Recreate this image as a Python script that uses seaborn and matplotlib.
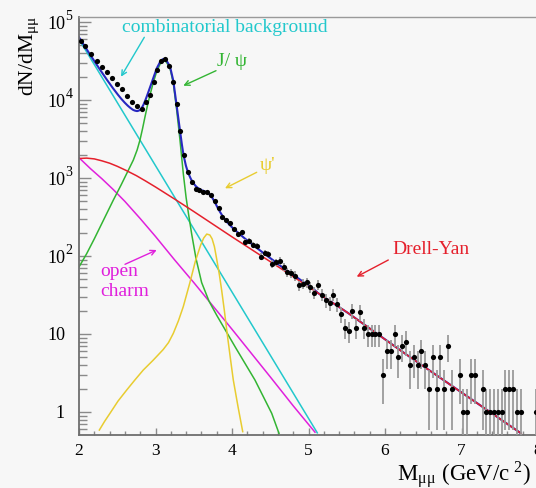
import numpy as np
import matplotlib
matplotlib.use("Agg")
import matplotlib.pyplot as plt
import matplotlib.transforms as mtransforms
import seaborn as sns
from matplotlib.ticker import FixedLocator, MultipleLocator, NullFormatter

plt.rcParams['font.family'] = ['Liberation Serif', 'DejaVu Serif']
plt.rcParams['mathtext.fontset'] = 'stix'

# ---------------- data ----------------
mass = [2.026, 2.082, 2.161, 2.235, 2.301, 2.366, 2.427, 2.493, 2.558, 2.627, 2.689, 2.758,
        2.825, 2.875, 2.925, 2.975, 3.025, 3.075, 3.125, 3.175, 3.225, 3.275, 3.325, 3.375,
        3.425, 3.475, 3.525, 3.575, 3.625, 3.675, 3.725, 3.775, 3.825, 3.875, 3.925, 3.975,
        4.025, 4.075, 4.125, 4.175, 4.225, 4.275, 4.325, 4.375, 4.425, 4.475, 4.525, 4.575,
        4.625, 4.675, 4.725, 4.775, 4.825, 4.875, 4.925, 4.975, 5.025, 5.075, 5.125, 5.175,
        5.225, 5.275, 5.325, 5.375, 5.425, 5.475, 5.525, 5.575, 5.625, 5.675, 5.725, 5.775,
        5.825, 5.875, 5.925, 5.975, 6.025, 6.075, 6.125, 6.175, 6.225, 6.275, 6.325, 6.375,
        6.425, 6.475, 6.525, 6.575, 6.625, 6.675, 6.725, 6.775, 6.825, 6.875, 6.975, 7.025,
        7.075, 7.125, 7.175, 7.275, 7.325, 7.375, 7.425, 7.475, 7.525, 7.575, 7.625, 7.675,
        7.725, 7.775, 7.975]
counts = [57500, 49700, 39200, 31600, 26700, 22600, 19300, 16200, 13700, 11250, 9510, 8450,
          7670, 9420, 11590, 16860, 24250, 31620, 33250, 27300, 16860, 8810, 4040, 1973,
          1205, 897, 716, 702, 667, 656, 605, 512, 409, 313, 289, 263,
          222, 191, 201, 153, 157, 138, 134, 98, 110, 106, 79, 83,
          87, 72, 62, 60, 56, 42, 44, 46, 40, 34, 43, 32,
          27, 25, 32, 24, 18, 12, 11, 20, 12, 19, 12, 10,
          10, 10, 10, 3, 6, 6, 10, 5, 7, 8, 4, 5,
          4, 6, 4, 2, 5, 2, 5, 2, 7, 2, 3, 1,
          1, 3, 3, 2, 1, 1, 1, 1, 1, 2, 2, 2,
          1, 1, 1]

comb_x = [2.0, 5.115]
comb_y = [60000, 0.54]

charm_x = [2.0, 2.15, 2.3, 2.45, 2.6, 2.8, 3.0, 3.25, 3.5, 4.0, 4.5, 4.8, 5.085]
charm_y = [1820, 1318, 977, 708, 501, 302, 178, 89.1, 45.7, 11.5, 2.82, 1.20, 0.55]

dy_x = [2.0, 2.1, 2.2, 2.3, 2.4, 2.5, 2.62, 2.75, 2.87, 3.0, 3.25, 3.5, 4.0, 4.63, 5.5,
        6.2, 7.0, 7.78]
dy_y = [1778, 1799, 1758, 1660, 1549, 1413, 1245, 1072, 916, 767, 537, 372, 176, 70, 19.1,
        6.17, 1.78, 0.531]

jpsi_x = [2.0, 2.1, 2.2, 2.3, 2.449, 2.55, 2.65, 2.71, 2.76, 2.797, 2.83, 2.863, 2.895,
          2.928, 2.97, 3.015, 3.06, 3.10, 3.14, 3.19, 3.233, 3.277, 3.32, 3.363, 3.40,
          3.43, 3.473, 3.529, 3.603, 3.7, 3.8, 4.05, 4.30, 4.519, 4.614]
jpsi_y = [72.4, 107, 166, 263, 522, 813, 1288, 1698, 2291, 3069, 4266, 6109, 8511,
          11588, 16596, 23067, 28840, 31915, 30903, 25468, 16368, 7447, 3069, 1148, 562,
          355, 191, 93.3, 45.7, 26.3, 17.4, 6.61, 2.57, 0.962, 0.533]

psi2_x = [2.266, 2.335, 2.405, 2.51, 2.623, 2.73, 2.84, 2.97, 3.10, 3.17, 3.233, 3.30,
          3.363, 3.45, 3.52, 3.59, 3.63, 3.67, 3.71, 3.74, 3.77, 3.80, 3.835, 3.865,
          3.90, 3.94, 3.98, 4.017, 4.08, 4.14]
psi2_y = [0.587, 0.759, 0.962, 1.38, 1.91, 2.57, 3.45, 4.62, 6.31, 7.76, 10.2, 14.8,
          22.4, 45.7, 85.1, 138, 170, 191, 186, 166, 132, 91.2, 57.5, 36.3,
          20.0, 9.55, 4.79, 2.57, 1.15, 0.56]

xticks = [2, 3, 4, 5, 6, 7, 8]
yticks = [1, 10, 100, 1000, 10000, 100000]
ytick_base = ['1', '10', '10', '10', '10', '10']
ytick_exp = ['', '', '2', '3', '4', '5']

# ---------------- figure ----------------
W, H = 536, 488
fig = plt.figure(figsize=(W / 100, H / 100), dpi=100)
bg = '#f7f7f7'
fig.patch.set_facecolor(bg)
ax = fig.add_axes([79 / W, (H - 435) / H, 459 / W, (435 - 16.7) / H])
ax.set_facecolor(bg)
ax.set_yscale('log')
ax.set_xlim(2, 8)
ax.set_ylim(0.507, 1.17e5)

# total fit = sum of components
grid = np.linspace(2.0, 7.97, 800)


def comp(xs, ys):
    v = 10 ** np.interp(grid, xs, np.log10(ys))
    return np.where((grid >= xs[0]) & (grid <= xs[-1]), v, 0.0)


total = comp(comb_x, comb_y) + comp(charm_x, charm_y) + comp(dy_x, dy_y) + \
    comp(jpsi_x, jpsi_y) + comp(psi2_x, psi2_y)

lw = 1.1
c_cyan = '#22c8cc'
c_mag = '#e020dc'
c_green = '#33b533'
c_yel = '#e8cc30'
c_red = '#e5202c'
c_blue = '#2828c0'

sns.lineplot(x=comb_x, y=comb_y, ax=ax, color=c_cyan, lw=lw, sort=False, estimator=None)
sns.lineplot(x=charm_x, y=charm_y, ax=ax, color=c_mag, lw=lw, sort=False, estimator=None)
sns.lineplot(x=jpsi_x, y=jpsi_y, ax=ax, color=c_green, lw=lw, sort=False, estimator=None)
sns.lineplot(x=psi2_x, y=psi2_y, ax=ax, color=c_yel, lw=lw, sort=False, estimator=None)
sns.lineplot(x=grid, y=total, ax=ax, color=c_blue, lw=1.5, sort=False, estimator=None)
sns.lineplot(x=dy_x, y=dy_y, ax=ax, color=c_red, lw=lw, sort=False, estimator=None)

m = np.array(mass)
c = np.array(counts, dtype=float)
err = np.sqrt(c)
low = np.minimum(err, c - 1e-3)
ax.errorbar(m, c, yerr=[low, err], fmt='none', ecolor='#9a9a9a', elinewidth=1.3,
            capsize=0, zorder=4)
sns.scatterplot(x=mass, y=counts, ax=ax, color='black', s=14, linewidth=0, zorder=5)

# ---------------- axes styling ----------------
for s in ['left', 'bottom']:
    ax.spines[s].set_color('#6e6e6e')
    ax.spines[s].set_linewidth(1.3)
ax.spines['top'].set_color('#9a9a9a')
ax.spines['top'].set_linewidth(1.0)
ax.spines['right'].set_visible(False)

ax.xaxis.set_major_locator(FixedLocator(xticks))
ax.xaxis.set_minor_locator(MultipleLocator(0.2))
ax.set_xticklabels([str(t) for t in xticks])
ax.yaxis.set_major_locator(FixedLocator(yticks))
minors = [k * 10 ** e for e in range(-1, 5) for k in range(2, 10)]
ax.yaxis.set_minor_locator(FixedLocator(minors))
ax.yaxis.set_minor_formatter(NullFormatter())
ax.yaxis.set_major_formatter(NullFormatter())
ax.tick_params(axis='y', which='major', direction='in', length=8.5, width=1.0,
               color='#8a8a8a')
ax.tick_params(axis='y', which='minor', direction='in', length=5.5, width=1.0,
               color='#8a8a8a')
ax.tick_params(axis='x', which='major', direction='in', length=5, width=1.0,
               color='#8a8a8a', labelsize=12.5, pad=6, labelcolor='black')
ax.tick_params(axis='x', which='minor', direction='in', length=3, width=1.0,
               color='#8a8a8a')
ax.set_xlabel('')
ax.set_ylabel('')

# y tick labels: base right-aligned, exponent hanging to the right (ROOT style)
blend = mtransforms.blended_transform_factory(ax.transAxes, ax.transData)
for v, b, e in zip(yticks, ytick_base, ytick_exp):
    tb = blend + mtransforms.ScaledTranslation(-14 / 100, 0, fig.dpi_scale_trans)
    ax.text(0, v, b, transform=tb, ha='right', va='center_baseline', fontsize=13,
            clip_on=False)
    if e:
        te = blend + mtransforms.ScaledTranslation(-13.5 / 100, 7 / 100, fig.dpi_scale_trans)
        ax.text(0, v, e, transform=te, ha='left', va='center_baseline', fontsize=10,
                clip_on=False)


def fxy(px, py):
    return px / W, 1 - py / H


# axis titles
fig.text(*fxy(29, 56), r'dN/dM$_{\mathregular{μμ}}$', rotation=90, ha='center',
         va='center', fontsize=15.5)
fig.text(*fxy(531, 474), r'M$_{\mathregular{μμ}}$ (GeV/c$^{\mathregular{\ 2}}$)',
         ha='right', va='center', fontsize=16.5)

# annotations


def label(px, py, txt, col, ha='left', fs=14):
    fig.text(*fxy(px, py), txt, color=col, ha=ha, va='center', fontsize=fs)


def arrow(p0, p1, col):
    ax.annotate('', xy=fxy(*p1), xycoords='figure fraction', xytext=fxy(*p0),
                textcoords='figure fraction',
                arrowprops=dict(arrowstyle='->', color=col, lw=1.0,
                                shrinkA=0, shrinkB=0, mutation_scale=9))


label(122, 27, 'combinatorial background', c_cyan)
arrow((144.3, 37.3), (121, 76.7), c_cyan)
label(217, 62, 'J/ ψ', c_green)
arrow((216, 70.7), (183.3, 85.7), c_green)
label(260, 165, "ψ'", c_yel)
arrow((256.7, 172.3), (225, 188.3), c_yel)
label(392, 250, 'Drell-Yan', c_red)
arrow((388.3, 260), (356.7, 276.7), c_red)
label(100, 272, 'open', c_mag)
label(100, 291, 'charm', c_mag)
arrow((125, 264.3), (156.7, 250), c_mag)

fig.savefig('out.png', dpi=100, facecolor=bg)
